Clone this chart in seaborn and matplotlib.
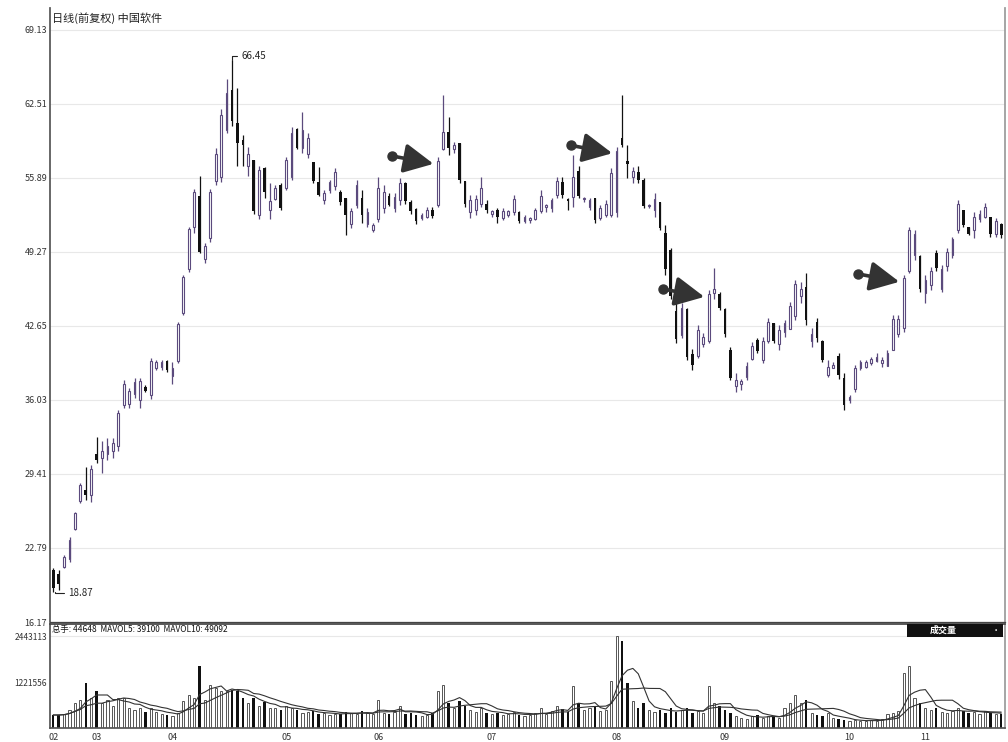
import matplotlib
matplotlib.use("Agg")
import matplotlib.pyplot as plt
from matplotlib.patches import Rectangle
import numpy as np
import pandas as pd
import seaborn as sns

# ---- data (daily candles, Feb..Nov) ----
opens = [
    20.80, 20.50, 21.10, 21.80, 24.50, 27.00, 27.95, 27.50, 31.20, 30.80,
    31.20, 31.50, 31.90, 35.60, 35.70, 36.60, 36.00, 37.20, 36.50, 38.90,
    39.00, 39.50, 38.20, 39.50, 43.80, 47.70, 51.50, 54.30, 48.60, 50.50,
    55.60, 56.00, 60.20, 63.76, 60.80, 59.30, 57.00, 57.50, 52.60, 56.80,
    53.00, 54.00, 55.30, 55.00, 56.00, 60.30, 58.60, 58.00, 57.30, 55.50,
    53.90, 54.80, 55.20, 54.60, 54.10, 51.80, 53.50, 54.10, 51.80, 51.20,
    52.20, 53.20, 54.30, 53.20, 53.90, 55.40, 53.70, 53.10, 52.30, 52.40,
    53.00, 53.50, 58.50, 60.00, 58.50, 59.00, 55.60, 52.80, 53.00, 53.60,
    53.60, 52.70, 53.00, 52.30, 52.60, 52.80, 52.80, 52.00, 52.10, 52.20,
    52.90, 53.30, 53.20, 54.40, 55.50, 54.00, 54.20, 56.50, 54.00, 53.30,
    54.10, 52.30, 52.60, 52.60, 52.80, 59.50, 57.40, 56.00, 56.40, 55.70,
    53.40, 53.00, 53.70, 51.00, 49.40, 44.00, 41.80, 44.20, 40.10, 40.00,
    41.00, 41.30, 45.60, 45.50, 44.20, 40.50, 37.30, 37.50, 38.10, 39.70,
    41.40, 39.60, 41.30, 42.90, 41.00, 42.10, 42.40, 43.50, 45.30, 46.10,
    41.30, 43.00, 41.30, 38.30, 38.90, 40.00, 38.00, 36.00, 37.00, 38.90,
    39.00, 39.30, 39.50, 39.30, 39.10, 40.50, 41.90, 42.50, 47.60, 49.00,
    48.90, 45.60, 46.30, 49.20, 46.00, 48.00, 49.00, 51.20, 53.00, 51.50,
    51.20, 52.20, 52.40, 52.40, 50.90, 51.80,
]
highs = [
    21.00, 20.80, 22.14, 23.75, 26.00, 28.58, 30.00, 30.20, 32.70, 32.34,
    32.60, 32.60, 35.10, 37.80, 37.10, 38.00, 38.00, 37.35, 39.77, 39.60,
    39.60, 39.60, 39.40, 43.00, 47.20, 51.50, 54.90, 56.10, 50.06, 54.90,
    58.60, 62.10, 64.70, 66.45, 63.90, 59.70, 58.65, 57.50, 57.00, 56.90,
    55.40, 55.25, 55.40, 57.76, 60.45, 60.40, 61.80, 59.90, 57.30, 56.90,
    54.80, 55.70, 56.80, 54.80, 54.10, 53.20, 55.70, 54.80, 53.20, 51.90,
    55.97, 55.25, 54.50, 54.50, 55.90, 55.50, 53.90, 53.20, 52.75, 53.30,
    53.30, 57.75, 63.30, 61.30, 59.10, 59.00, 55.60, 54.40, 54.40, 56.00,
    53.90, 53.00, 53.20, 53.20, 53.00, 54.40, 52.90, 52.60, 52.40, 53.20,
    54.80, 53.60, 54.10, 56.00, 56.00, 54.10, 57.90, 57.00, 54.20, 54.10,
    54.10, 53.50, 53.90, 56.80, 58.70, 63.30, 58.80, 56.90, 57.00, 55.90,
    53.60, 54.50, 53.70, 51.70, 49.60, 45.40, 44.70, 44.30, 40.60, 42.70,
    42.00, 45.85, 47.80, 45.70, 44.30, 40.75, 38.40, 37.95, 39.40, 41.20,
    41.60, 41.65, 43.35, 42.90, 42.70, 43.20, 44.80, 46.75, 46.60, 47.40,
    42.50, 43.35, 41.40, 39.60, 39.40, 40.20, 38.40, 36.50, 39.20, 39.60,
    39.60, 39.85, 40.20, 39.85, 40.50, 43.60, 43.60, 47.20, 51.50, 51.20,
    49.00, 47.20, 47.90, 49.45, 48.10, 49.60, 50.60, 53.90, 53.00, 51.50,
    52.85, 53.00, 53.65, 52.40, 52.30, 51.90,
]
lows = [
    18.87, 19.00, 20.97, 21.51, 24.38, 26.79, 27.06, 26.90, 30.40, 29.50,
    30.70, 30.80, 31.50, 35.30, 35.30, 36.20, 35.30, 36.70, 36.10, 38.70,
    38.70, 38.50, 37.50, 39.30, 43.60, 47.50, 51.00, 49.20, 48.27, 50.20,
    55.25, 55.50, 59.90, 60.50, 57.00, 57.00, 56.06, 52.65, 52.20, 54.10,
    52.20, 53.90, 53.00, 54.80, 55.70, 58.50, 58.10, 57.70, 55.40, 54.30,
    53.60, 54.50, 54.80, 53.50, 50.80, 51.40, 53.20, 51.90, 51.50, 51.05,
    51.95, 52.75, 53.40, 52.80, 53.50, 53.60, 52.70, 51.80, 52.10, 52.30,
    52.30, 53.30, 58.40, 57.90, 58.10, 55.40, 53.30, 52.30, 52.60, 53.30,
    52.75, 52.40, 51.85, 52.10, 52.40, 52.60, 51.85, 51.85, 51.85, 52.10,
    52.75, 52.80, 52.80, 54.10, 54.10, 53.00, 53.30, 54.10, 53.70, 53.00,
    51.85, 52.10, 52.40, 52.40, 52.40, 58.65, 55.90, 55.45, 55.45, 53.20,
    53.20, 52.40, 51.20, 47.20, 45.10, 41.10, 41.60, 39.60, 38.70, 39.80,
    40.75, 41.10, 45.10, 44.10, 41.65, 37.80, 36.70, 36.90, 37.80, 39.60,
    40.20, 39.30, 41.10, 41.10, 40.50, 41.65, 42.40, 43.20, 44.70, 42.70,
    40.75, 41.20, 39.40, 38.10, 38.90, 37.95, 35.10, 35.80, 36.70, 38.70,
    38.90, 39.15, 39.40, 38.95, 39.10, 40.50, 41.65, 42.10, 47.40, 48.55,
    45.70, 44.70, 45.85, 47.60, 45.70, 47.60, 48.70, 50.95, 51.50, 50.75,
    50.50, 51.95, 52.30, 50.60, 50.60, 50.50,
]
closes = [
    19.20, 19.60, 22.00, 23.50, 25.90, 28.40, 27.55, 29.90, 30.70, 31.50,
    31.90, 32.20, 34.90, 37.50, 36.80, 37.60, 37.70, 36.80, 39.50, 39.40,
    39.40, 38.70, 38.90, 42.80, 47.00, 51.30, 54.60, 49.30, 49.80, 54.60,
    58.00, 61.50, 63.50, 60.98, 59.00, 58.80, 58.00, 52.90, 56.60, 54.60,
    53.80, 55.00, 53.20, 57.50, 59.90, 58.60, 60.20, 59.50, 55.60, 54.40,
    54.50, 55.50, 56.40, 53.70, 52.60, 52.90, 55.30, 52.60, 52.80, 51.70,
    55.00, 54.60, 53.50, 54.20, 55.40, 53.80, 52.90, 52.00, 52.60, 53.00,
    52.50, 57.40, 60.00, 58.60, 58.80, 55.70, 53.60, 53.90, 54.00, 55.00,
    53.00, 52.90, 52.40, 52.90, 52.90, 54.00, 52.00, 52.40, 52.30, 53.00,
    54.30, 53.50, 53.90, 55.60, 54.40, 53.80, 56.00, 54.30, 54.10, 53.90,
    52.10, 53.20, 53.60, 56.30, 58.30, 58.80, 57.10, 56.50, 55.70, 53.40,
    53.50, 54.00, 51.40, 47.70, 45.30, 41.50, 44.30, 39.90, 39.20, 42.30,
    41.70, 45.50, 46.00, 44.30, 41.90, 38.00, 37.80, 37.70, 39.10, 40.90,
    40.40, 41.30, 43.00, 41.30, 42.30, 42.90, 44.40, 46.40, 46.00, 43.20,
    41.90, 41.60, 39.60, 39.00, 39.20, 38.30, 35.60, 36.30, 38.90, 39.40,
    39.40, 39.70, 39.90, 39.60, 40.20, 43.30, 43.30, 46.90, 51.20, 50.90,
    46.00, 46.80, 47.60, 47.80, 47.70, 49.30, 50.40, 53.60, 51.70, 50.90,
    52.40, 52.70, 53.30, 50.90, 52.00, 50.80,
]
# volume, thousands of shares
volumes = [
    345, 345, 372, 478, 664, 744, 1195, 797, 983, 664,
    744, 584, 797, 797, 531, 478, 531, 425, 531, 425,
    372, 345, 319, 398, 717, 876, 797, 1646, 744, 1142,
    1062, 983, 983, 1009, 983, 797, 664, 797, 584, 690,
    531, 531, 478, 584, 531, 478, 398, 425, 451, 372,
    398, 345, 372, 372, 425, 398, 372, 451, 398, 372,
    744, 398, 372, 425, 584, 372, 398, 345, 319, 345,
    398, 983, 1142, 664, 531, 717, 584, 478, 425, 531,
    398, 372, 398, 345, 372, 425, 345, 319, 345, 398,
    531, 372, 451, 584, 505, 425, 1115, 664, 478, 531,
    584, 451, 478, 1248, 2443, 2310, 1195, 717, 531, 664,
    478, 425, 478, 398, 531, 425, 478, 531, 398, 451,
    398, 1115, 664, 584, 478, 398, 319, 266, 239, 319,
    345, 266, 319, 292, 266, 531, 664, 876, 664, 744,
    398, 345, 319, 398, 266, 239, 212, 186, 212, 186,
    186, 212, 186, 239, 372, 398, 451, 1461, 1646, 797,
    664, 531, 478, 531, 425, 398, 451, 531, 451, 398,
    425, 372, 451, 398, 372, 372,
]

month_labels = ["02", "03", "04", "05", "06", "07", "08", "09", "10", "11"]
month_start = [0, 8, 22, 43, 60, 81, 104, 124, 147, 161]
price_ticks = [16.17, 22.79, 29.41, 36.03, 42.65, 49.27, 55.89, 62.51, 69.13]
vol_ticks = [1221.556, 2443.113]
vol_tick_labels = ["1221556", "2443113"]
arrow_idx = [71, 104, 121, 157]

title_text = "日线(前复权) 中国软件"
vol_header = "总手: 44648  MAVOL5: 39100  MAVOL10: 49092"

df = pd.DataFrame({"open": opens, "high": highs, "low": lows,
                   "close": closes, "volume": volumes})
df["idx"] = np.arange(len(df))
df["up"] = df["close"] >= df["open"]
df["ma5"] = df["volume"].rolling(5, min_periods=1).mean()
df["ma10"] = df["volume"].rolling(10, min_periods=1).mean()

sns.set_theme(style="white")
cjk = ["Noto Sans CJK SC", "DejaVu Sans"]
plt.rcParams["font.family"] = cjk

UP = "#5b4a7d"
DOWN = "#111111"

fig = plt.figure(figsize=(10.08, 7.42), dpi=100)
ax = fig.add_axes([50 / 1008, 120 / 742, 955 / 1008, 614 / 742])
axv = fig.add_axes([50 / 1008, 14 / 742, 955 / 1008, 104 / 742], sharex=ax)

# ---- candles ----
up = df[df["up"]]
dn = df[~df["up"]]
ax.vlines(up["idx"], up["low"], up["high"], color=UP, lw=0.9, zorder=2)
ax.vlines(dn["idx"], dn["low"], dn["high"], color=DOWN, lw=0.9, zorder=2)
ax.bar(up["idx"], (up["close"] - up["open"]).clip(lower=0.08), bottom=up["open"],
       width=0.32, facecolor="white", edgecolor=UP, lw=0.8, zorder=3)
ax.bar(dn["idx"], (dn["open"] - dn["close"]).clip(lower=0.1), bottom=dn["close"],
       width=0.48, color=DOWN, lw=0, zorder=3)

for y in price_ticks:
    ax.axhline(y, color="#e8e8e8", lw=0.8, zorder=0)

ax.set_xlim(-0.6, len(df) - 0.3)
ax.set_ylim(16.17, 71.09)
ax.set_yticks(price_ticks)
ax.set_yticklabels([f"{v:.2f}" for v in price_ticks])
ax.tick_params(axis="y", labelsize=6.5, colors="#333333", length=0, pad=2)
ax.tick_params(axis="x", bottom=False, labelbottom=False)
ax.set_xlabel("")
ax.set_ylabel("")
for side, sp in ax.spines.items():
    sp.set_visible(side in ("left", "right", "bottom"))
ax.spines["left"].set_color("#555555")
ax.spines["right"].set_color("#9a9a9a")
ax.spines["bottom"].set_color("#444444")
ax.spines["bottom"].set_linewidth(0.9)

# extreme labels
pk = int(np.argmax(highs))
ax.annotate(f"{highs[pk]:.2f}", xy=(pk, highs[pk]), xytext=(pk + 1.8, highs[pk] + 0.35),
            fontsize=7, va="center", ha="left", color="#222222",
            arrowprops=dict(arrowstyle="-", color="#222222", lw=0.8, shrinkA=1, shrinkB=0,
                            connectionstyle="angle,angleA=0,angleB=90,rad=0"))
lo = int(np.argmin(lows))
ax.annotate(f"{lows[lo]:.2f}", xy=(lo + 0.4, lows[lo]), xytext=(lo + 2.8, lows[lo] - 0.1),
            fontsize=7, va="center", ha="left", color="#222222",
            arrowprops=dict(arrowstyle="-", color="#222222", lw=0.8, shrinkA=1, shrinkB=0,
                            connectionstyle="angle,angleA=0,angleB=90,rad=0"))

# arrows
for i in arrow_idx:
    hx, hy = i - 0.8, highs[i] - 0.6
    tx, ty = hx - 7.6, hy + 0.7
    ax.annotate("", xy=(hx, hy), xytext=(tx, ty),
                arrowprops=dict(arrowstyle="-|>,head_length=1.5,head_width=0.75",
                                color="#333333", lw=2.6, shrinkA=0, shrinkB=0))
    ax.plot(tx, ty, "o", color="#333333", ms=6.5, zorder=5)

ax.text(2 / 955, 0.984, title_text, transform=ax.transAxes, fontsize=8,
        va="center", ha="left", color="#222222", family=cjk)

# ---- volume ----
axv.bar(up["idx"], up["volume"], width=0.4, facecolor="white", edgecolor="#555555",
        lw=0.7, zorder=2)
axv.bar(dn["idx"], dn["volume"], width=0.45, color=DOWN, lw=0, zorder=2)
sns.lineplot(data=df, x="idx", y="ma5", ax=axv, color="#333333", lw=0.8, zorder=3)
sns.lineplot(data=df, x="idx", y="ma10", ax=axv, color="#333333", lw=0.8, zorder=3)
axv.set_ylim(0, 2762)
axv.set_yticks(vol_ticks)
axv.set_yticklabels(vol_tick_labels)
axv.axhline(vol_ticks[1], color="#e8e8e8", lw=0.8, zorder=0)
axv.tick_params(axis="y", labelsize=6, colors="#333333", length=0, pad=2)
axv.set_xticks(month_start)
axv.set_xticklabels(month_labels)
axv.tick_params(axis="x", labelsize=6.5, colors="#333333", length=2, pad=1.5)
axv.set_xlabel("")
axv.set_ylabel("")
for side, sp in axv.spines.items():
    sp.set_visible(True)
    sp.set_color("#555555")
axv.spines["top"].set_color("#444444")
axv.spines["right"].set_color("#9a9a9a")

axv.text(2 / 955, 0.95, vol_header, transform=axv.transAxes, fontsize=6,
         va="center", ha="left", color="#111111", family=cjk)
axv.add_patch(Rectangle((0.897, 0.875), 0.101, 0.125, transform=axv.transAxes,
                        facecolor="#111111", edgecolor="none", zorder=6, clip_on=False))
axv.text(0.935, 0.94, "成交量", transform=axv.transAxes, fontsize=6.5, color="white",
         va="center", ha="center", zorder=7, family=cjk, fontweight="bold")
axv.text(0.99, 0.94, "•", transform=axv.transAxes, fontsize=6, color="white",
         va="center", ha="center", zorder=7)

fig.savefig("out.png", dpi=100)
